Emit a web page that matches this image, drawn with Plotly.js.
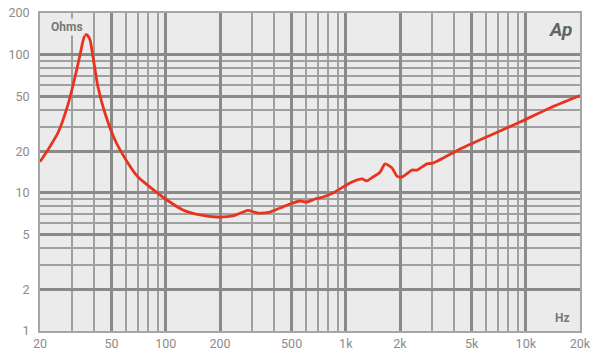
<!DOCTYPE html>
<html>
<head>
<meta charset="utf-8">
<script src="https://cdn.plot.ly/plotly-3.0.1.min.js"></script>
<style>
  html, body { margin: 0; padding: 0; background: #ffffff; }
  #chart { width: 600px; height: 362px; }
</style>
</head>
<body>
<div id="chart"></div>
<script>
// Impedance curve (Hz, Ohms)
const freqHz = [20, 22.2, 25.2, 28.6, 31.3, 33.4, 34.7, 35.5, 36.4, 37.9, 39.4, 42.0, 45.9, 52.2, 60.1, 70.1, 81.7,
  101.5, 124.6, 154.9, 192.4, 236.2, 268.5, 286.2, 325.2, 379.2, 430.9, 489.7, 556.6, 608.7, 674.4, 746.9,
  848.8, 964.5, 1082, 1230, 1311, 1416, 1549, 1651, 1805, 1925, 2052, 2332, 2486, 2825, 3051, 4309, 6325,
  9283, 13626, 20000];
const impedanceOhms = [16.8, 20.6, 27.3, 43.5, 68.9, 100, 126, 138, 139, 128, 96.1, 58.3, 37.8, 24.1, 17.3, 13.0, 11.0,
  8.87, 7.51, 6.91, 6.68, 6.80, 7.26, 7.45, 7.14, 7.26, 7.76, 8.30, 8.72, 8.58, 9.02, 9.32,
  9.97, 11.0, 11.97, 12.6, 12.2, 13.0, 14.1, 16.2, 15.1, 13.2, 13.0, 14.6, 14.6, 16.2, 16.4, 20.7, 26.0,
  32.5, 41.1, 50.5];

// Axis ticks
const xTickVals = [20, 50, 100, 200, 500, 1000, 2000, 5000, 10000, 20000];
const xTickText = ['20', '50', '100', '200', '500', '1k', '2k', '5k', '10k', '20k'];
const xMinorVals = [30, 40, 60, 70, 80, 90, 300, 400, 600, 700, 800, 900,
  3000, 4000, 6000, 7000, 8000, 9000];
const yTickVals = [1, 2, 5, 10, 20, 50, 100, 200];
const yTickText = ['1', '2', '5', '10', '20', '50', '100', '200'];
const yMinorVals = [3, 4, 6, 7, 8, 9, 30, 40, 60, 70, 80, 90];

const trace = {
  x: freqHz,
  y: impedanceOhms,
  type: 'scatter',
  mode: 'lines',
  line: { color: '#e8341f', width: 2.8, shape: 'spline', smoothing: 0.6 },
  hoverinfo: 'skip'
};

const tickFont = { family: 'Roboto, Arial, sans-serif', size: 12.5, color: '#8c8c8c' };

const layout = {
  width: 600,
  height: 362,
  margin: { l: 40, r: 20, t: 13, b: 31, pad: 0 },
  paper_bgcolor: '#ffffff',
  plot_bgcolor: '#ebebeb',
  showlegend: false,
  xaxis: {
    type: 'log',
    range: [Math.log10(20), Math.log10(20000)],
    tickmode: 'array',
    tickvals: xTickVals,
    ticktext: xTickText,
    tickfont: tickFont,
    ticks: '',
    ticklen: 0,
    showgrid: true,
    gridcolor: '#8a8a8a',
    gridwidth: 3,
    minor: { tickmode: 'array', tickvals: xMinorVals, showgrid: true, gridcolor: '#a0a0a0', gridwidth: 2, ticks: '' },
    showline: true,
    mirror: true,
    linecolor: '#a6a6a6',
    linewidth: 2,
    zeroline: false,
    fixedrange: true
  },
  yaxis: {
    type: 'log',
    range: [0, Math.log10(200)],
    tickmode: 'array',
    tickvals: yTickVals,
    ticktext: yTickText,
    tickfont: tickFont,
    ticks: '',
    ticklen: 0,
    ticklabelstandoff: 6,
    showgrid: true,
    gridcolor: '#8a8a8a',
    gridwidth: 3,
    minor: { tickmode: 'array', tickvals: yMinorVals, showgrid: true, gridcolor: '#a0a0a0', gridwidth: 2, ticks: '' },
    showline: true,
    mirror: true,
    linecolor: '#a6a6a6',
    linewidth: 2,
    zeroline: false,
    fixedrange: true
  },
  annotations: [
    { text: '<b>Ohms</b>', xref: 'paper', yref: 'paper', x: 0.016, y: 0.985, xanchor: 'left', yanchor: 'top',
      showarrow: false, font: { family: 'Roboto, Arial, sans-serif', size: 12, color: '#777777' },
      bgcolor: '#ebebeb' },
    { text: '<b><i>Ap</i></b>', xref: 'paper', yref: 'paper', x: 0.988, y: 0.99, xanchor: 'right', yanchor: 'top',
      showarrow: false, font: { family: 'Roboto, Arial, sans-serif', size: 19, color: '#636363' } },
    { text: '<b>Hz</b>', xref: 'paper', yref: 'paper', x: 0.985, y: 0.012, xanchor: 'right', yanchor: 'bottom',
      showarrow: false, font: { family: 'Roboto, Arial, sans-serif', size: 12, color: '#777777' } }
  ]
};

Plotly.newPlot('chart', [trace], layout, { displayModeBar: false, staticPlot: true });
</script>
</body>
</html>
